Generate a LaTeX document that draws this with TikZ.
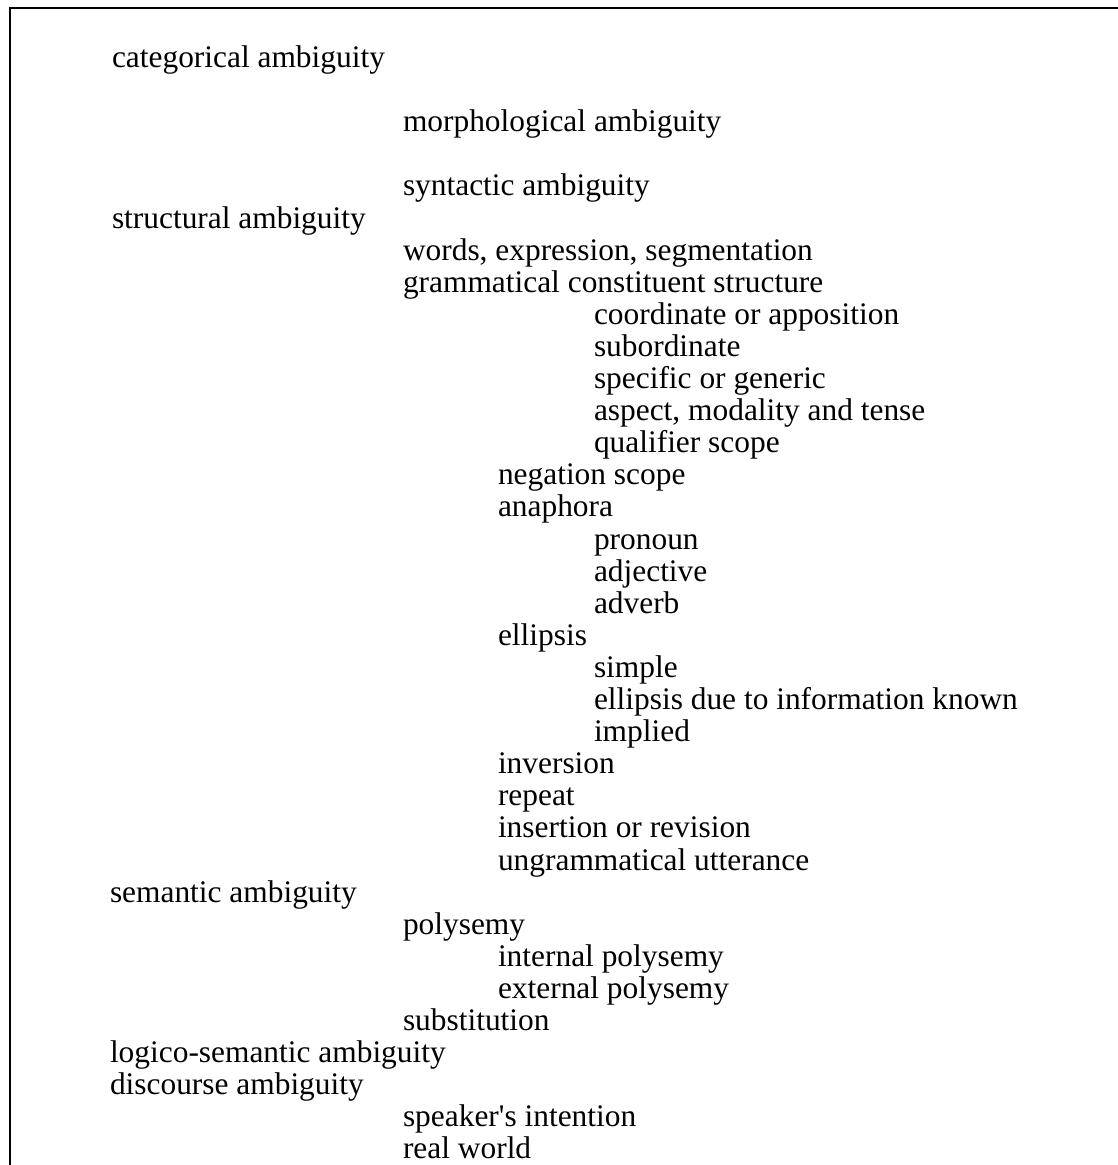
\documentclass[tikz,border=0pt]{standalone}
\usepackage{fontspec}
\setmainfont{Liberation Serif}[Ligatures=TeXOff]
\tikzset{
  entry/.style={anchor=base west, inner sep=0pt, outer sep=0pt, font=\fontsize{31.4}{34}\selectfont},
  frameline/.style={line width=2.2pt, line cap=butt}
}
\newcommand{\rowy}[1]{67.5+32.1*#1}
\begin{document}
\begin{tikzpicture}[x=1pt,y=-1pt]
\useasboundingbox (0,0) rectangle (1118,1165);
% frame (top and left edges only)
\coordinate (tl) at (10,8);
\coordinate (tr) at (1118,8);
\coordinate (bl) at (10,1165);
\draw[frameline] (tr) -- (tl) -- (bl);
% level x positions: 112, 403, 498, 594
\node[entry] (n0)  at (112,{\rowy{0}})  {categorical ambiguity};
\node[entry] (n1)  at (403,{\rowy{2}})  {morphological ambiguity};
\node[entry] (n2)  at (403,{\rowy{4}})  {syntactic ambiguity};
\node[entry] (n3)  at (112,{\rowy{5}})  {structural ambiguity};
\node[entry] (n4)  at (403,{\rowy{6}})  {words, expression, segmentation};
\node[entry] (n5)  at (403,{\rowy{7}})  {grammatical constituent structure};
\node[entry] (n6)  at (594,{\rowy{8}})  {coordinate or apposition};
\node[entry] (n7)  at (594,{\rowy{9}})  {subordinate};
\node[entry] (n8)  at (594,{\rowy{10}}) {specific or generic};
\node[entry] (n9)  at (594,{\rowy{11}}) {aspect, modality and tense};
\node[entry] (n10) at (594,{\rowy{12}}) {qualifier scope};
\node[entry] (n11) at (498,{\rowy{13}}) {negation scope};
\node[entry] (n12) at (498,{\rowy{14}}) {anaphora};
\node[entry] (n13) at (594,{\rowy{15}}) {pronoun};
\node[entry] (n14) at (594,{\rowy{16}}) {adjective};
\node[entry] (n15) at (594,{\rowy{17}}) {adverb};
\node[entry] (n16) at (498,{\rowy{18}}) {ellipsis};
\node[entry] (n17) at (594,{\rowy{19}}) {simple};
\node[entry] (n18) at (594,{\rowy{20}}) {ellipsis due to information known};
\node[entry] (n19) at (594,{\rowy{21}}) {implied};
\node[entry] (n20) at (498,{\rowy{22}}) {inversion};
\node[entry] (n21) at (498,{\rowy{23}}) {repeat};
\node[entry] (n22) at (498,{\rowy{24}}) {insertion or revision};
\node[entry] (n23) at (498,{\rowy{25}}) {ungrammatical utterance};
\node[entry] (n24) at (110,{\rowy{26}}) {semantic ambiguity};
\node[entry] (n25) at (403,{\rowy{27}}) {polysemy};
\node[entry] (n26) at (498,{\rowy{28}}) {internal polysemy};
\node[entry] (n27) at (498,{\rowy{29}}) {external polysemy};
\node[entry] (n28) at (403,{\rowy{30}}) {substitution};
\node[entry] (n29) at (110,{\rowy{31}}) {logico-semantic ambiguity};
\node[entry] (n30) at (110,{\rowy{32}}) {discourse ambiguity};
\node[entry] (n31) at (403,{\rowy{33}}) {speaker's intention};
\node[entry] (n32) at (403,{\rowy{34}}) {real world};
\end{tikzpicture}
\end{document}
